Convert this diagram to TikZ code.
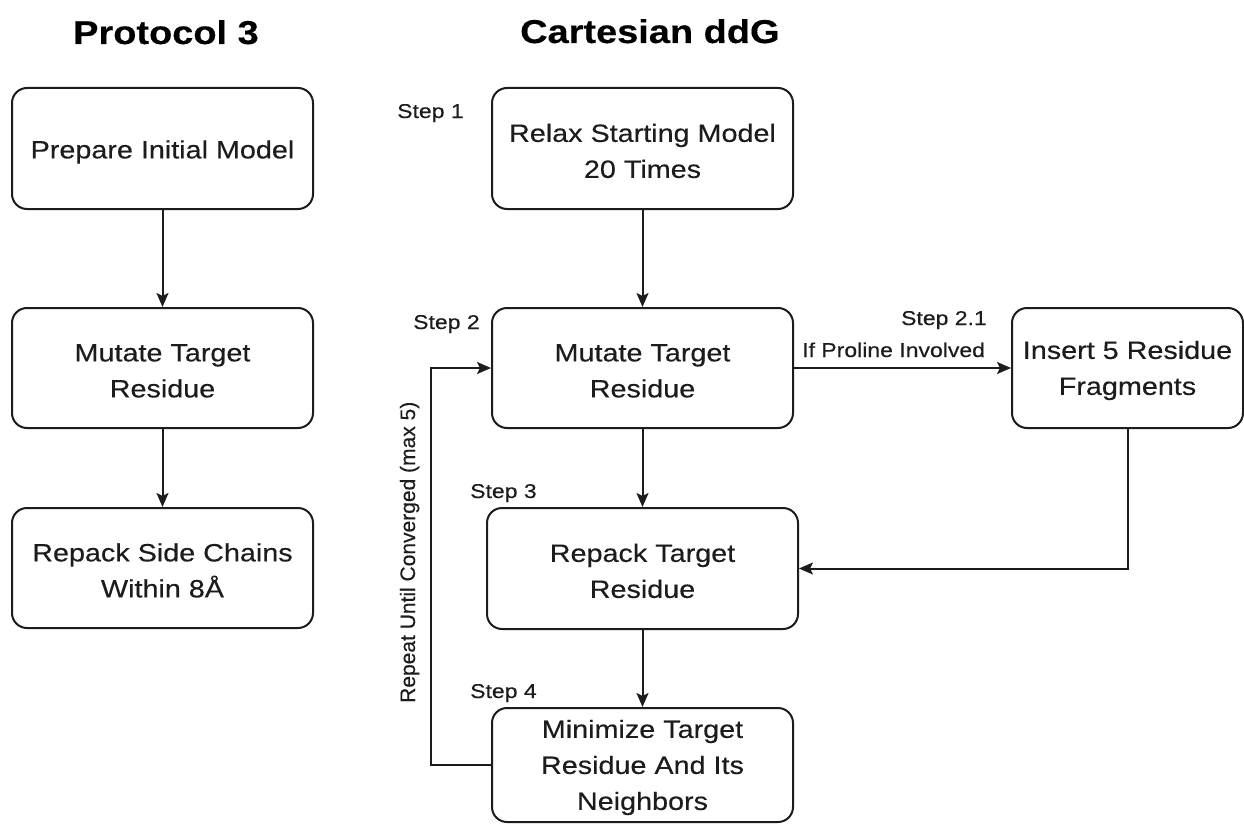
\documentclass[tikz,border=0pt]{standalone}
\usepackage{fontspec}
\setmainfont{Liberation Sans}[FakeStretch=1.15, FakeBold=0.3]
\newfontfamily\rotfont{Liberation Sans}[FakeBold=0.3]
\usetikzlibrary{arrows.meta}
\definecolor{ink}{RGB}{28,28,28}
\newcommand\bxstrut{\rule{0pt}{25pt}}
\newcommand\mlstrut{\rule{0pt}{23pt}}
\tikzset{
  box/.style={draw=ink, line width=2pt, rounded corners=15pt, rectangle, inner sep=0pt,
    align=center, text=ink, font=\fontsize{25}{36}\selectfont},
  lbl/.style={inner sep=0pt, text=ink, anchor=base west, font=\fontsize{20}{24}\selectfont},
  ttl/.style={inner sep=0pt, text=black, anchor=base west, font=\fontsize{33}{40}\selectfont\bfseries},
  arr/.style={draw=ink, line width=2pt, -{Stealth[length=14pt,width=12pt,inset=3pt]}}
}
\begin{document}
\begin{tikzpicture}[x=1pt,y=-1pt]
\useasboundingbox[fill=white] (0,0) rectangle (1244,824);
% titles
\node[ttl] (t1) at (73,44) {Protocol 3};
\node[ttl] (t2) at (520,43) {Cartesian ddG};
% left column
\node[box, minimum width=301pt, minimum height=121pt] (p1) at (162.5,148.5) {\bxstrut Prepare Initial Model};
\node[box, minimum width=301pt, minimum height=120pt] (p2) at (162.5,368) {\mlstrut Mutate Target\\Residue};
\node[box, minimum width=301pt, minimum height=120pt] (p3) at (162.5,568) {\mlstrut Repack Side Chains\\Within 8Å};
% right part
\node[box, minimum width=301pt, minimum height=121pt] (c1) at (642.5,148.5) {\mlstrut Relax Starting Model\\20 Times};
\node[box, minimum width=301pt, minimum height=120pt] (c2) at (642.5,368) {\mlstrut Mutate Target\\Residue};
\node[box, minimum width=231pt, minimum height=120pt] (c21) at (1127.5,368) {\mlstrut Insert 5 Residue\\Fragments};
\node[box, minimum width=311pt, minimum height=121pt] (c3) at (642.5,568.5) {\mlstrut Repack Target\\Residue};
\node[box, minimum width=301pt, minimum height=114pt] (c4) at (642.5,765) {\mlstrut Minimize Target\\Residue And Its\\Neighbors};
% step labels
\node[lbl] (s1) at (397,118) {Step 1};
\node[lbl] (s2) at (413,329) {Step 2};
\node[lbl] (s3) at (470,498) {Step 3};
\node[lbl] (s4) at (470,698) {Step 4};
\node[lbl, anchor=base east] (s21) at (987,325) {Step 2.1};
\node[lbl] (pro) at (802,357) {If Proline Involved};
\node[inner sep=0pt, text=ink, rotate=90, anchor=base west, font=\rotfont\fontsize{21}{24}\selectfont] (rep) at (415,703) {Repeat Until Converged (max 5)};
% connectors
\draw[arr] (p1.south) -- (p2.north);
\draw[arr] (p2.south) -- (p3.north);
\draw[arr] (c1.south) -- (c2.north);
\draw[arr] (c2.south) -- (c3.north);
\draw[arr] (c3.south) -- (c4.north);
\draw[arr] (c2.east) -- (c21.west);
\draw[arr] (c21.south) |- (c3.east);
\draw[arr] (c4.west) -- ([xshift=-60pt]c4.west) |- (c2.west);
\end{tikzpicture}
\end{document}
